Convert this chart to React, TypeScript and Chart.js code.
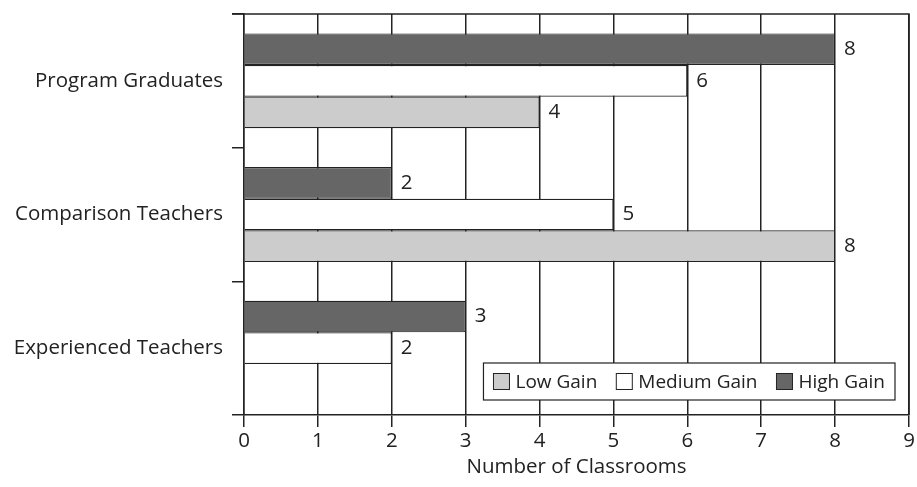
import React, { useEffect, useRef } from "react";
import { Chart, registerables } from "chart.js";

Chart.register(...registerables);

const categories = ["Program Graduates", "Comparison Teachers", "Experienced Teachers"];
const lowGain = [4, 8, 0];
const mediumGain = [6, 5, 2];
const highGain = [8, 2, 3];
const xTicks = [0, 1, 2, 3, 4, 5, 6, 7, 8, 9];
const xTitle = "Number of Classrooms";

const FONT = "'Open Sans', 'Noto Sans', sans-serif";
const FS = 20.5;
const LFS = 19;
const INK = "#222222";

const frame = {
  id: "frame",
  afterDatasetsDraw(chart: any) {
    const { ctx, chartArea: a } = chart;
    ctx.save();
    ctx.strokeStyle = INK;
    ctx.lineWidth = 1.5;
    ctx.beginPath();
    ctx.moveTo(a.left - 12, a.top);
    ctx.lineTo(a.right, a.top);
    ctx.lineTo(a.right, a.bottom);
    ctx.stroke();
    ctx.restore();
  },
};

const labels = {
  id: "valueLabels",
  afterDatasetsDraw(chart: any) {
    const { ctx } = chart;
    ctx.save();
    ctx.font = `${FS}px ${FONT}`;
    ctx.fillStyle = INK;
    ctx.textAlign = "left";
    ctx.textBaseline = "middle";
    chart.data.datasets.forEach((ds: any, i: number) => {
      const meta = chart.getDatasetMeta(i);
      meta.data.forEach((el: any, j: number) => {
        const v = ds.data[j];
        if (!v) return;
        ctx.fillText(String(v), el.x + 9, el.y);
      });
    });
    ctx.restore();
  },
};

const legendBox = {
  id: "legendBox",
  afterDraw(chart: any) {
    const { ctx, chartArea: a } = chart;
    const items = [...chart.data.datasets].reverse();
    ctx.save();
    ctx.font = `${LFS}px ${FONT}`;
    const sq = 16;
    const gapSqText = 6;
    const gapItems = 19;
    const padX = 10;
    let total = padX * 2;
    const widths = items.map((d: any) => ctx.measureText(d.label).width);
    widths.forEach((w: number, i: number) => {
      total += sq + gapSqText + w + (i < items.length - 1 ? gapItems : 0);
    });
    const h = 37;
    const right = a.right - 14;
    const bottom = a.bottom - 15;
    const left = right - total;
    const top = bottom - h;
    ctx.fillStyle = "#ffffff";
    ctx.fillRect(left, top, total, h);
    ctx.strokeStyle = INK;
    ctx.lineWidth = 1.2;
    ctx.strokeRect(left, top, total, h);
    let x = left + padX;
    const cy = top + h / 2;
    items.forEach((d: any, i: number) => {
      ctx.fillStyle = d.backgroundColor;
      ctx.fillRect(x, cy - sq / 2, sq, sq);
      ctx.strokeStyle = INK;
      ctx.lineWidth = 1;
      ctx.strokeRect(x, cy - sq / 2, sq, sq);
      x += sq + gapSqText;
      ctx.fillStyle = INK;
      ctx.textBaseline = "middle";
      ctx.textAlign = "left";
      ctx.fillText(d.label, x, cy + 1);
      x += widths[i] + gapItems;
    });
    ctx.restore();
  },
};

export default function App() {
  const ref = useRef<HTMLCanvasElement | null>(null);
  useEffect(() => {
    document.body.style.margin = "0";
    if (!ref.current) return;
    const chart = new Chart(ref.current, {
      type: "bar",
      data: {
        labels: categories,
        datasets: [
          { label: "High Gain", data: highGain, backgroundColor: "#666666", borderColor: INK, borderWidth: 1.2 },
          { label: "Medium Gain", data: mediumGain, backgroundColor: "#ffffff", borderColor: INK, borderWidth: 1.2 },
          { label: "Low Gain", data: lowGain, backgroundColor: "#cccccc", borderColor: INK, borderWidth: 1.2 },
        ],
      },
      options: {
        indexAxis: "y",
        animation: false,
        responsive: false,
        devicePixelRatio: 1,
        layout: { padding: { top: 14, right: 8, left: 0, bottom: 8 } },
        datasets: { bar: { categoryPercentage: 0.71, barPercentage: 1 } },
        plugins: {
          legend: { display: false },
          tooltip: { enabled: false },
        },
        scales: {
          x: {
            type: "linear",
            min: 0,
            max: 9,
            afterBuildTicks: (scale: any) => {
              scale.ticks = xTicks.map((v) => ({ value: v }));
            },
            ticks: { stepSize: 1, color: INK, font: { family: FONT, size: FS }, padding: 2 },
            grid: { color: INK, lineWidth: 1.5, tickLength: 12, drawOnChartArea: true },
            border: { color: INK, width: 1.5 },
            title: { display: true, text: xTitle, color: INK, font: { family: FONT, size: FS }, padding: { top: 0, bottom: 0 } },
            afterFit: (scale: any) => {
              scale.height = 64;
              scale.paddingLeft = 0;
              scale.paddingRight = 0;
            },
          },
          y: {
            type: "category",
            ticks: { color: INK, font: { family: FONT, size: FS }, padding: 9 },
            grid: { offset: true, color: INK, lineWidth: 1.5, tickLength: 12, drawOnChartArea: false },
            border: { color: INK, width: 1.5 },
            afterFit: (scale: any) => {
              scale.width = 244;
              scale.paddingTop = 0;
              scale.paddingBottom = 0;
            },
          },
        },
      },
      plugins: [frame, labels, legendBox],
    });
    return () => chart.destroy();
  }, []);
  return <canvas ref={ref} width={917} height={487} style={{ display: "block" }} />;
}
